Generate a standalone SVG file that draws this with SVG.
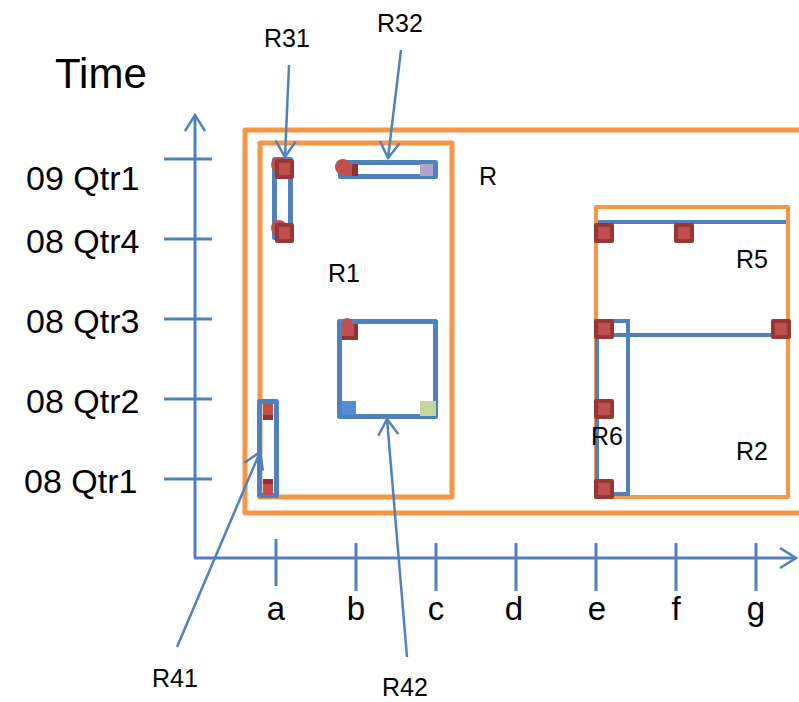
<svg xmlns="http://www.w3.org/2000/svg" width="799" height="702" viewBox="0 0 799 702">
<style>
.ax{stroke:#4F81BD;stroke-width:3;fill:none}
.or{stroke:#F79646;stroke-width:5;fill:none;stroke-linejoin:round}
.bl{stroke:#4F81BD;stroke-width:5;fill:none;stroke-linejoin:round}
.bt{stroke:#4F81BD;stroke-width:4;fill:none}
.co{stroke:#4F81BD;stroke-width:2.5;fill:none}
.pt{fill:#C0504D;stroke:#953735;stroke-width:4;stroke-linejoin:round}
.dot{fill:#C0504D}
.lt{fill:#C0504D}
.dk{fill:#8E3332}
text{font-family:"Liberation Sans",Arial,sans-serif;fill:#000}
.q{font-size:34px}
.lx{font-size:33px;text-anchor:middle}
.r{font-size:25px}
</style>
<defs>
<marker id="ah" markerUnits="userSpaceOnUse" viewBox="0 0 20 22" refX="18" refY="11" markerWidth="20" markerHeight="22" orient="auto">
<path d="M2,1 L18,11 L2,21" fill="none" stroke="#4F81BD" stroke-width="2.5"/>
</marker>
</defs>

<g id="axes">
<line class="ax" x1="195" y1="558" x2="195" y2="115" marker-end="url(#ah)"/>
<line class="ax" x1="194" y1="558" x2="796" y2="558" marker-end="url(#ah)"/>
<g class="ax">
<line x1="164" y1="159" x2="212" y2="159"/>
<line x1="164" y1="239" x2="212" y2="239"/>
<line x1="164" y1="319" x2="212" y2="319"/>
<line x1="164" y1="399" x2="212" y2="399"/>
<line x1="164" y1="479" x2="212" y2="479"/>
<line x1="276" y1="539" x2="276" y2="586"/>
<line x1="356" y1="543" x2="356" y2="591"/>
<line x1="436" y1="543" x2="436" y2="591"/>
<line x1="516" y1="543" x2="516" y2="591"/>
<line x1="596" y1="543" x2="596" y2="591"/>
<line x1="676" y1="543" x2="676" y2="591"/>
<line x1="756" y1="543" x2="756" y2="591"/>
</g>
<text x="55" y="88" style="font-size:42px">Time</text>
<text class="q" x="26" y="190">09 Qtr1</text>
<text class="q" x="26" y="253">08 Qtr4</text>
<text class="q" x="26" y="333">08 Qtr3</text>
<text class="q" x="26" y="413">08 Qtr2</text>
<text class="q" x="24" y="493">08 Qtr1</text>
<text class="lx" x="276" y="620">a</text>
<text class="lx" x="356" y="620">b</text>
<text class="lx" x="436" y="620">c</text>
<text class="lx" x="514" y="620">d</text>
<text class="lx" x="597" y="620">e</text>
<text class="lx" x="676" y="620">f</text>
<text class="lx" x="756" y="620">g</text>
</g>

<g id="R">
<rect class="or" x="245" y="130" width="600" height="383"/>
<text class="r" x="479" y="185">R</text>
</g>

<g id="R1">
<rect class="or" x="260" y="143" width="192" height="354"/>
<text class="r" x="328" y="282">R1</text>
</g>

<g id="R31">
<rect class="bl" x="274.5" y="159.5" width="16" height="78"/>
<circle class="dot" cx="279" cy="165" r="8"/>
<rect class="pt" x="277" y="161" width="15" height="16"/>
<circle class="dot" cx="279" cy="228" r="8"/>
<rect class="pt" x="277" y="225" width="15" height="16"/>
</g>

<g id="R32">
<rect class="bl" x="340.5" y="162.5" width="95" height="14"/>
<circle class="dot" cx="343" cy="167" r="8"/>
<rect class="lt" x="343" y="164" width="10" height="12"/>
<rect class="dk" x="352" y="164" width="6" height="12"/>
<rect x="420" y="164" width="13" height="12" fill="#B3A2C7"/>
</g>

<g id="R42">
<rect class="bl" x="339.5" y="321.5" width="96" height="95"/>
<circle class="dot" cx="347" cy="323" r="5"/>
<rect class="dk" x="342" y="324" width="16" height="16"/>
<rect class="lt" x="342" y="324" width="12" height="12"/>
<rect x="342" y="401" width="14" height="14" fill="#558ED5"/>
<rect x="420" y="401" width="16" height="15" fill="#C3D69B"/>
</g>

<g id="R41">
<rect class="bl" x="259.5" y="401.5" width="17" height="94"/>
<rect class="lt" x="263" y="404" width="10" height="11"/>
<rect class="dk" x="263" y="415" width="10" height="5"/>
<rect class="dk" x="263" y="479" width="10" height="5"/>
<rect class="lt" x="263" y="484" width="10" height="11"/>
</g>

<g id="R5">
<rect class="or" x="596" y="207" width="192" height="290" style="stroke-width:4"/>
<line class="bt" x1="598" y1="222" x2="786" y2="222"/>
<text class="r" x="736" y="268">R5</text>
</g>

<g id="R2">
<line class="bt" x1="598" y1="335" x2="786" y2="335"/>
<text class="r" x="736" y="460">R2</text>
</g>

<g id="R6">
<rect class="bt" x="597" y="321" width="31" height="173"/>
<text class="r" x="591" y="445">R6</text>
</g>

<g id="points">
<rect class="pt" x="596" y="225" width="16" height="16"/>
<rect class="pt" x="676" y="225" width="16" height="16"/>
<rect class="pt" x="596" y="321" width="16" height="16"/>
<rect class="pt" x="773" y="321" width="16" height="16"/>
<rect class="pt" x="596" y="401" width="16" height="16"/>
<rect class="pt" x="596" y="481" width="16" height="16"/>
</g>

<g id="connectors">
<line class="co" x1="289" y1="65" x2="285" y2="157" marker-end="url(#ah)"/>
<line class="co" x1="401" y1="50" x2="388" y2="158" marker-end="url(#ah)"/>
<line class="co" x1="177" y1="647" x2="260" y2="452" marker-end="url(#ah)"/>
<line class="co" x1="407" y1="657" x2="387" y2="419" marker-end="url(#ah)"/>
</g>

<g id="labels">
<text class="r" x="264" y="47">R31</text>
<text class="r" x="377" y="32">R32</text>
<text class="r" x="152" y="687">R41</text>
<text class="r" x="382" y="696">R42</text>
</g>
</svg>
